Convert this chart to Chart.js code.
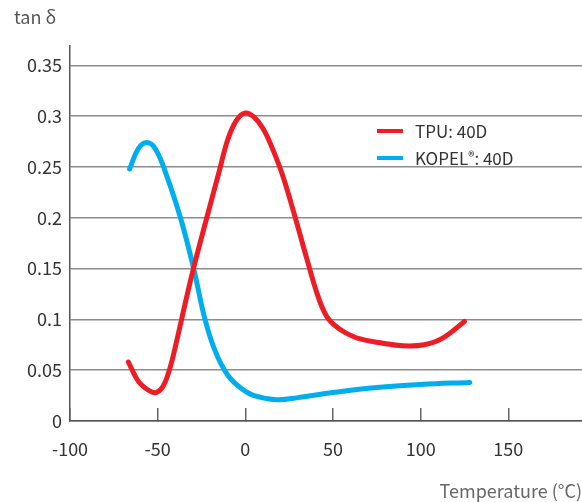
<!DOCTYPE html>
<html>
<head>
<meta charset="utf-8">
<script src="https://cdn.jsdelivr.net/npm/chart.js@4/dist/chart.umd.min.js"></script>
<style>
  html, body { margin: 0; padding: 0; background: #ffffff; }
  #wrap { position: relative; width: 582px; height: 502px; font-family: "Noto Sans CJK JP", "Noto Sans", sans-serif; }
  #yTitle { position: absolute; left: 14px; top: 3px; font-size: 18px; color: #555555; }
  #legend { position: absolute; left: 377px; top: 117px; font-size: 17px; color: #333333; }
  .leg-row { display: flex; align-items: center; height: 27px; }
  .leg-line { width: 26px; height: 4px; margin-right: 12px; }
  sup { font-size: 13px; line-height: 0; vertical-align: 4px; }
</style>
</head>
<body>
<div id="wrap">
  <canvas id="tanDeltaChart" width="582" height="502"></canvas>
  <div id="yTitle">tan δ</div>
  <div id="legend"></div>
</div>
<script>
// data
const seriesNames = ['TPU: 40D', 'KOPEL<sup>®</sup>: 40D'];
const seriesColors = ['#ee1c25', '#00aeef'];

const tpuTemp = [-66.7, -61, -55, -51, -47, -43, -39, -34, -29.6, -22, -15, -10, -5, 0, 5, 10, 15, 21, 28, 35, 41, 46, 51, 57, 65, 77, 90, 102, 112, 125];
const tpuTan  = [0.058, 0.039, 0.030, 0.028, 0.034, 0.052, 0.080, 0.118, 0.150, 0.200, 0.245, 0.277, 0.296, 0.303, 0.299, 0.288, 0.270, 0.243, 0.203, 0.160, 0.125, 0.104, 0.094, 0.087, 0.081, 0.077, 0.074, 0.075, 0.081, 0.098];

const kopelTemp = [-66, -61, -56, -51, -45, -37, -29.6, -23, -17, -10, -3, 5, 18, 30, 50, 75, 100, 128];
const kopelTan  = [0.248, 0.268, 0.274, 0.267, 0.242, 0.200, 0.151, 0.100, 0.068, 0.045, 0.033, 0.025, 0.021, 0.023, 0.028, 0.033, 0.036, 0.038];

const xTicks = [-100, -50, 0, 50, 100, 150];
const yTicks = [0, 0.05, 0.1, 0.15, 0.2, 0.25, 0.3, 0.35];

function toPoints(xs, ys) {
    return xs.map((x, i) => ({ x: x, y: ys[i] }));
}

// custom legend inside the plot
const legendBox = document.getElementById('legend');
seriesNames.forEach((name, i) => {
    legendBox.innerHTML += `
      <div class="leg-row">
        <div class="leg-line" style="background-color: ${seriesColors[i]};"></div>
        <span>${name}</span>
      </div>`;
});

Chart.defaults.font.family = '"Noto Sans CJK JP", "Noto Sans", sans-serif';

const ctx = document.getElementById('tanDeltaChart').getContext('2d');
new Chart(ctx, {
    type: 'line',
    data: {
        datasets: [{
            label: 'TPU: 40D',
            data: toPoints(tpuTemp, tpuTan),
            borderColor: seriesColors[0],
            borderWidth: 5,
            pointRadius: 0,
            tension: 0.4,
            borderCapStyle: 'round',
            fill: false
        }, {
            label: 'KOPEL®: 40D',
            data: toPoints(kopelTemp, kopelTan),
            borderColor: seriesColors[1],
            borderWidth: 5,
            pointRadius: 0,
            tension: 0.4,
            borderCapStyle: 'round',
            fill: false
        }]
    },
    options: {
        responsive: false,
        animation: false,
        layout: { padding: { top: 46, right: 0, bottom: 0, left: 0 } },
        plugins: {
            legend: { display: false },
            tooltip: { enabled: false }
        },
        scales: {
            x: {
                type: 'linear',
                min: -100,
                max: 192,
                afterBuildTicks: axis => { axis.ticks = xTicks.map(v => ({ value: v })); },
                afterFit: axis => { axis.height = 81; },
                ticks: {
                    color: '#333333',
                    font: { size: 18 },
                    padding: 30,
                    maxRotation: 0
                },
                grid: {
                    drawOnChartArea: false,
                    drawTicks: true,
                    tickLength: -13,
                    color: '#666666',
                    lineWidth: 1.5
                },
                border: { color: '#555555', width: 1.5 },
                title: {
                    display: true,
                    text: 'Temperature (°C)',
                    align: 'end',
                    color: '#666666',
                    font: { size: 18 },
                    padding: { top: 0, bottom: 0 }
                }
            },
            y: {
                min: 0,
                max: 0.369,
                afterBuildTicks: axis => { axis.ticks = yTicks.map(v => ({ value: v })); },
                afterFit: axis => { axis.width = 70; },
                ticks: {
                    color: '#333333',
                    font: { size: 18 },
                    padding: 8,
                    callback: v => String(parseFloat(v.toFixed(2)))
                },
                grid: {
                    drawTicks: false,
                    color: '#8c8c8c',
                    lineWidth: 1.5
                },
                border: { color: '#555555', width: 1.5 }
            }
        }
    }
});
</script>
</body>
</html>
